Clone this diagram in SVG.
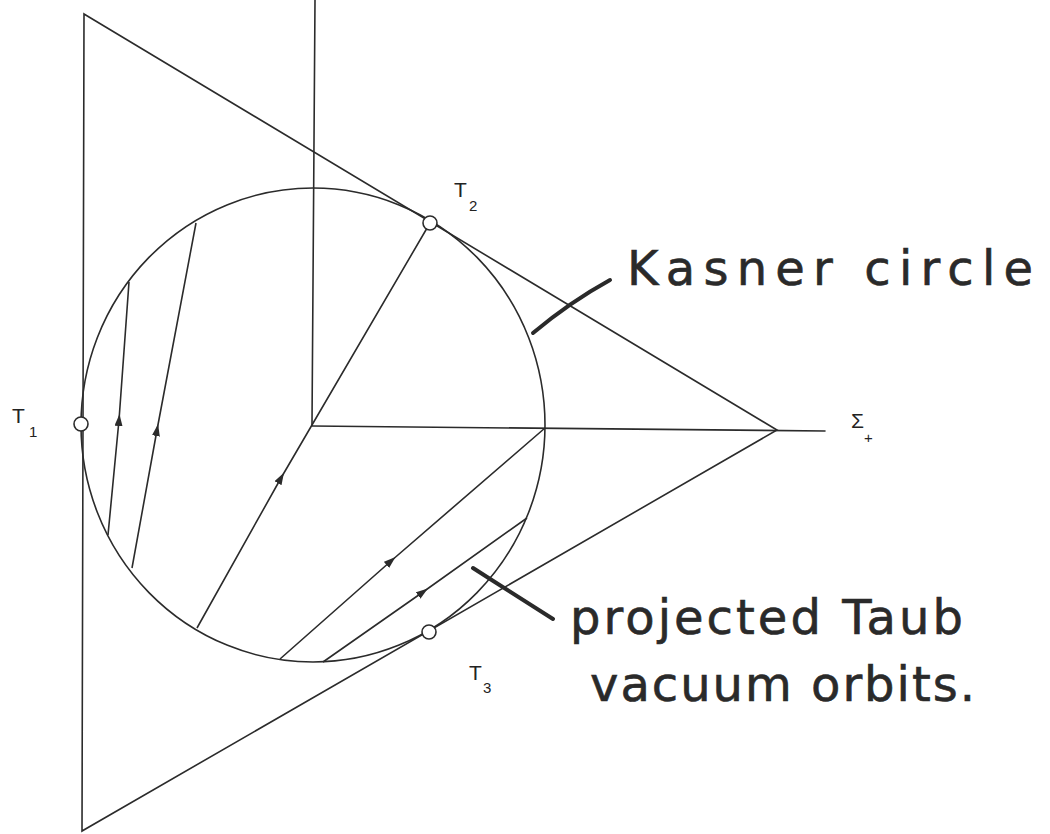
<svg xmlns="http://www.w3.org/2000/svg" width="1050" height="834" viewBox="0 0 1050 834">
<style>
.ln{fill:none;stroke:#2b2b2b;stroke-width:1.6;stroke-linecap:round}
.orb{fill:none;stroke:#2b2b2b;stroke-width:1.6;marker-mid:url(#arr)}
.pt{fill:#fff;stroke:#2b2b2b;stroke-width:1.6}
.lbl{font-family:"Liberation Sans",Arial,sans-serif;font-size:21px;fill:#222}
.sub{font-family:"Liberation Sans",Arial,sans-serif;font-size:15px;fill:#222}
.hand{font-family:"DejaVu Sans","Noto Sans",sans-serif;font-size:48px;fill:#2a2a2a;stroke:#2a2a2a;stroke-width:0.6}
.pen{fill:none;stroke:#2a2a2a;stroke-width:4;stroke-linecap:round}
</style>
<defs>
<marker id="arr" viewBox="0 0 12 8" refX="6" refY="4" markerWidth="12" markerHeight="8" markerUnits="userSpaceOnUse" orient="auto">
<path d="M0,0 L12,4 L0,8 Z" fill="#2b2b2b"/>
</marker>
</defs>
<rect width="1050" height="834" fill="#fff"/>
<g id="connectors">
<path class="ln" d="M84,14 L777,430 L82,831 Z"/>
<path class="ln" d="M315,0 L312,425"/>
<path class="ln" d="M312,426 L825,431"/>
<path class="orb" d="M108,535 L119,420 L129,282"/>
<path class="orb" d="M132,568 L157,430 L196,223"/>
<path class="orb" d="M197,628 L281,478 L430,223"/>
<path class="orb" d="M280,659 L391,561 L545,428"/>
<path class="orb" d="M323,662 L423,592 L527,518"/>
<path class="pen" d="M533,333 Q570,302 610,280"/>
<path class="pen" d="M473,568 Q515,595 553,619"/>
</g>
<g id="kasner-circle">
<ellipse class="ln" cx="313" cy="425" rx="232" ry="237"/>
</g>
<g id="T1">
<circle class="pt" cx="81" cy="424" r="7"/>
<text class="lbl" x="12" y="423">T</text><text class="sub" x="29" y="437">1</text>
</g>
<g id="T2">
<circle class="pt" cx="430" cy="223" r="7"/>
<text class="lbl" x="454" y="197">T</text><text class="sub" x="469" y="211">2</text>
</g>
<g id="T3">
<circle class="pt" cx="429" cy="632" r="7"/>
<text class="lbl" x="469" y="680">T</text><text class="sub" x="483" y="693">3</text>
</g>
<g id="sigma">
<text class="lbl" x="851" y="428">Σ</text><text class="sub" x="864" y="443">+</text>
</g>
<g id="label-kasner">
<text class="hand" x="627" y="285" textLength="406" lengthAdjust="spacing">Kasner circle</text>
</g>
<g id="label-taub">
<text class="hand" x="570" y="634" textLength="393" lengthAdjust="spacing">projected Taub</text>
<text class="hand" x="590" y="701" textLength="385" lengthAdjust="spacing">vacuum orbits.</text>
</g>
</svg>
